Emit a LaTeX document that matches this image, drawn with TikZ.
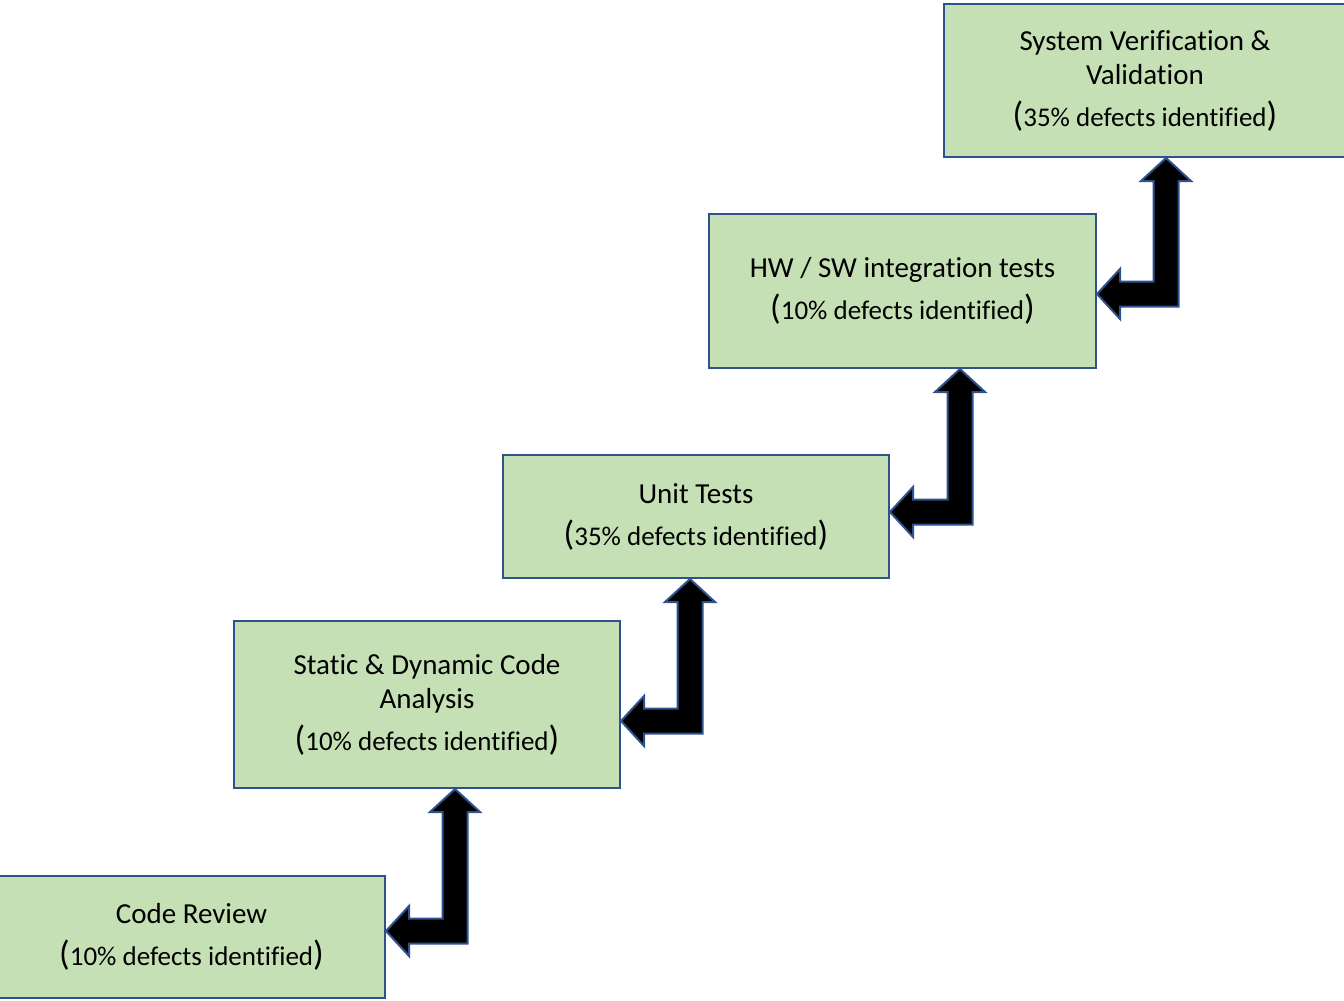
\documentclass[tikz,border=0pt]{standalone}
\usepackage{fontspec}
\setmainfont[Ligatures=NoCommon]{Carlito}
\usetikzlibrary{calc}
\definecolor{boxfill}{HTML}{C5E0B4}
\definecolor{boxline}{HTML}{2F528F}
% share of defects, with tall parentheses around smaller text
\newcommand{\pctline}[1]{{\fontsize{35}{40}\selectfont(}{\fontsize{27}{30}\selectfont #1}{\fontsize{35}{40}\selectfont)}}
% bent block arrow: #1 = tip of the upward head, #2 = tip of the leftward head
\newcommand{\bentarrow}[2]{%
  \draw[bent] let \p1=(#1), \p2=(#2) in
    (\x1,\y1) -- ({\x1+25pt},{\y1-23pt}) -- ({\x1+12.5pt},{\y1-23pt})
    -- ({\x1+12.5pt},{\y2-12.5pt}) -- ({\x2+23pt},{\y2-12.5pt})
    -- ({\x2+23pt},{\y2-25pt}) -- (\x2,\y2) -- ({\x2+23pt},{\y2+25pt})
    -- ({\x2+23pt},{\y2+12.5pt}) -- ({\x1-12.5pt},{\y2+12.5pt})
    -- ({\x1-12.5pt},{\y1-23pt}) -- ({\x1-25pt},{\y1-23pt}) -- cycle;}
\begin{document}
\begin{tikzpicture}[x=1pt,y=-1pt,
  stage/.style={draw=boxline, line width=2pt, fill=boxfill, align=center,
    inner sep=0pt, font=\fontsize{29}{34}\selectfont},
  bent/.style={draw=boxline, line width=2pt, fill=black, line join=miter}]
\useasboundingbox (0,0) rectangle (1344,1001);

% test stages
\node[stage, minimum width=387, minimum height=122] (review) at (191.5,937)
  {Code Review\\[8pt]\pctline{10\% defects identified}};
\node[stage, minimum width=386, minimum height=167] (analysis) at (427,704.5)
  {Static \& Dynamic Code\\Analysis\\[8pt]\pctline{10\% defects identified}};
\node[stage, minimum width=386, minimum height=123] (unit) at (696,516.5)
  {Unit Tests\\[8pt]\pctline{35\% defects identified}};
\node[stage, minimum width=387, minimum height=154] (hwsw) at (902.5,291)
  {HW / SW integration tests\\[8pt]\pctline{10\% defects identified}};
\node[stage, minimum width=402, minimum height=153] (system) at (1145,80.5)
  {System Verification \&\\Validation\\[8pt]\pctline{35\% defects identified}};

% arrow tips on the box edges
\coordinate (u1) at ($(analysis.south west)+(222,0)$);
\coordinate (l1) at ($(review.east)+(0,-6)$);
\coordinate (u2) at ($(unit.south west)+(188,0)$);
\coordinate (l2) at ($(analysis.east)+(0,16.5)$);
\coordinate (u3) at ($(hwsw.south west)+(252,0)$);
\coordinate (l3) at ($(unit.east)+(0,-4.5)$);
\coordinate (u4) at ($(system.south west)+(223,0)$);
\coordinate (l4) at ($(hwsw.east)+(0,3)$);

\bentarrow{u1}{l1}
\bentarrow{u2}{l2}
\bentarrow{u3}{l3}
\bentarrow{u4}{l4}
\end{tikzpicture}
\end{document}
